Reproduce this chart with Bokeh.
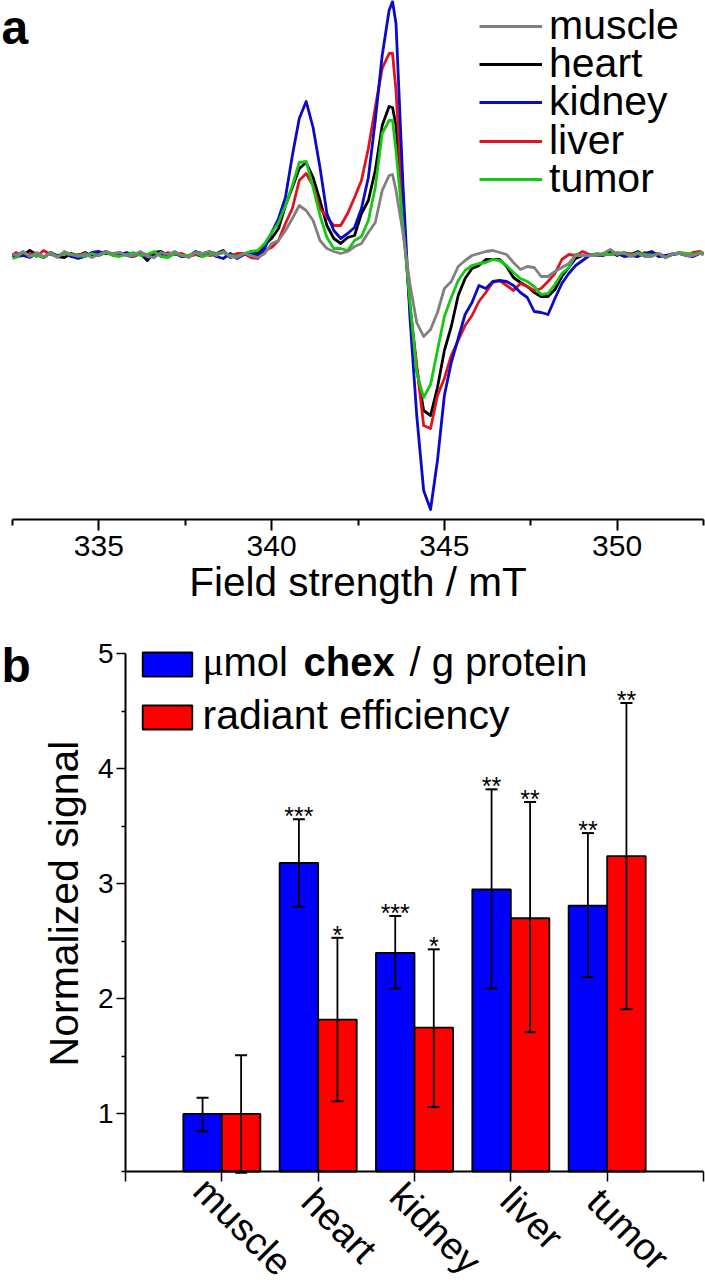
from math import pi
from bokeh.plotting import figure
from bokeh.embed import file_html
from bokeh.resources import INLINE
from bokeh.core.properties import value
from bokeh.models import (ColumnDataSource, FixedTicker, Label, LabelSet, Legend, LegendItem,
                          Range1d, TeeHead, Whisker)

# ---- panel a: EPR spectra (field in mT, signal in arbitrary units) ----
field_left = [332.5,332.6,332.8,333.0,333.2,333.4,333.6,333.8,334.0,334.2,334.4,334.6,334.8,335.0,335.2,335.4,335.6,335.8,336.0,
              336.2,336.4,336.6,336.8,337.0,337.2,337.4,337.6,337.8,338.0,338.2,338.4,338.6,338.8,339.0,339.2,339.4]
field_mid = [339.6,339.8,340.0,340.2,340.4,340.6,340.8,341.0,341.2,341.4,341.6,341.8,342.0,342.2,342.4,342.6,342.8,343.0,
             343.2,343.4,343.5,343.6,343.8,344.0,344.2,344.4,344.6,344.8,345.0,345.2,345.4,345.6,345.8,346.0,346.2,346.4,
             346.6,346.8,347.0,347.2,347.4,347.6,347.8,348.0,348.2,348.4,348.6,348.8,349.0,349.2]
field_right = [349.4,349.6,349.8,350.0,350.2,350.4,350.6,350.8,351.0,351.2,351.4,351.6,351.8,352.0,352.2,352.4,352.5]
field = field_left + field_mid + field_right

muscle_signal = [1,-1,3,-2,2,-2,1,-3,3,0,-2,1,-3,0,3,1,2,-1,-1,3,-2,-3,2,0,3,-1,-3,2,1,3,-1,3,-2,-3,1,-1,
                 -3,1,11,14,24,36,49,44,34,14,6,3,1,3,8,11,22,32,64,79,80,64,22,-29,-68,-82,-75,-58,-34,-27,-12,-6,-1,1,3,4,2,0,-8,-15,-12,-13,-22,-22,-17,-13,-9,-1,-1,-1,
                 -1,1,5,0,2,-2,1,-2,-2,1,-3,1,1,-1,-1,1,0]
heart_signal = [0,1,-1,4,0,-3,2,-2,-3,1,-1,2,-2,1,3,0,2,-1,-2,1,-6,2,3,-1,2,-2,-1,0,-2,2,1,4,-3,-1,0,3,
                1,10,16,26,49,67,86,92,77,54,29,16,11,17,19,41,54,84,129,148,147,129,39,-51,-114,-156,-161,-133,-96,-72,-41,-24,-14,-11,-5,-5,-5,-12,-23,-28,-32,-38,-42,-42,-35,-22,-13,-4,-1,-1,
                -1,0,3,-1,2,0,3,-1,2,0,-3,0,2,-1,0,2,1]
kidney_signal = [-1,-2,-1,-3,1,-3,2,-1,1,-2,-4,-2,2,3,1,1,-1,2,0,2,-3,-1,1,0,1,-2,-2,3,1,3,-2,-4,1,-4,0,1,
                 -1,6,22,36,57,99,136,153,127,87,41,24,16,21,27,46,77,134,199,244,253,231,71,-61,-161,-236,-255,-206,-141,-108,-84,-60,-48,-31,-34,-27,-26,-27,-31,-38,-43,-57,-58,-60,-44,-29,-19,-11,-6,-1,
                 0,-1,1,1,-2,-1,-2,1,3,-2,-1,0,1,-1,-2,1,0]
liver_signal = [-1,2,-1,1,-2,4,0,-2,1,-2,0,-1,1,-1,2,0,-1,1,-2,1,0,2,-1,2,0,1,-2,0,1,-1,0,2,-1,1,1,-3,
                -4,4,7,14,31,46,74,81,69,46,37,29,29,41,57,74,106,147,186,201,201,164,44,-51,-111,-171,-174,-141,-124,-101,-86,-71,-61,-47,-38,-28,-26,-31,-36,-29,-32,-36,-34,-27,-19,-5,0,-1,3,0,
                -1,1,0,1,-1,1,-1,2,0,1,-2,1,1,-1,2,3,1]
tumor_signal = [-4,-3,2,-1,-1,-3,2,-2,1,0,-1,-2,1,-1,2,-1,-2,0,2,-1,0,3,-2,-3,1,-1,-1,2,-2,0,1,2,-1,-2,1,3,
                4,11,22,32,49,69,92,93,67,39,17,6,6,4,14,18,34,67,121,134,134,104,29,-46,-118,-143,-130,-96,-62,-43,-26,-16,-11,-9,-8,-5,-6,-11,-18,-24,-27,-32,-40,-39,-30,-19,-13,0,-1,-1,
                1,0,0,2,1,-1,2,0,-1,1,-3,0,2,1,0,2,1]

field_ticks = [335, 340, 345, 350]
field_minor_ticks = [332.5, 337.5, 342.5, 347.5, 352.5]
series_names = ["muscle", "heart", "kidney", "liver", "tumor"]

# ---- panel b: bars ----
categories = ["muscle", "heart", "kidney", "liver", "tumor"]
category_pos = [1, 2, 3, 4, 5]
chex_values = [1.00, 3.18, 2.40, 2.95, 2.81]
chex_upper = [1.14, 3.56, 2.72, 3.82, 3.44]
chex_lower = [0.85, 2.80, 2.09, 2.09, 2.19]
chex_stars = ["", "***", "***", "**", "**"]
radiant_values = [1.00, 1.82, 1.75, 2.70, 3.24]
radiant_upper = [1.51, 2.53, 2.43, 3.71, 4.57]
radiant_lower = [0.49, 1.11, 1.06, 1.71, 1.91]
radiant_stars = ["", "*", "*", "**", "**"]

FONT = "Liberation Sans"
LC = {"muscle": "#808080", "heart": "#000000", "kidney": "#0a0ac8", "liver": "#e0141e", "tumor": "#14c814"}

# ---------------------------- panel a ----------------------------
# The frame fills the whole figure, so that every text lies inside it; the axis sits at a fixed location.
A_H = 610
a_px = 691 / 20.0          # pixels per mT
a_bottom = -265 - (A_H - 519)
pa = figure(width=705, height=A_H, output_backend="svg", toolbar_location=None,
            x_range=Range1d(332.5 - 12 / a_px, 352.5 + 2 / a_px), y_range=Range1d(a_bottom, 254),
            min_border=0)
pa.outline_line_color = None
pa.grid.visible = False
pa.yaxis.visible = False
ax = pa.xaxis[0]
ax.fixed_location = -265
ax.bounds = (332.5, 352.5)
ax.ticker = FixedTicker(ticks=field_ticks, minor_ticks=field_minor_ticks)
ax.axis_line_width = 2
ax.major_tick_line_width = 2
ax.minor_tick_line_width = 2
ax.major_tick_in = 0
ax.major_tick_out = 11
ax.minor_tick_in = 0
ax.minor_tick_out = 6
ax.major_label_text_font = FONT
ax.major_label_text_font_size = "30px"
ax.major_label_text_color = "#000000"
ax.major_label_standoff = 5
ax.axis_label = "Field strength / mT"
ax.axis_label_text_font = FONT
ax.axis_label_text_font_style = "normal"
ax.axis_label_text_font_size = "40.5px"
ax.axis_label_text_color = "#000000"
ax.axis_label_standoff = 0

signals = {"muscle": muscle_signal, "heart": heart_signal, "kidney": kidney_signal,
           "liver": liver_signal, "tumor": tumor_signal}
rs = {}
for nm in ["heart", "liver", "kidney", "tumor", "muscle"]:
    rs[nm] = pa.line(field, signals[nm], line_color=LC[nm], line_width=2.8, line_join="round")

# one single-row legend per series, because a Legend's rows cannot be closer than its text height
legend_rows = [561, 523, 485, 446, 408]
for n, row in zip(series_names, legend_rows):
    pa.add_layout(Legend(items=[LegendItem(label=n, renderers=[rs[n]])],
                         location=(479, row), orientation="vertical", padding=0, margin=0, spacing=0,
                         glyph_width=63, glyph_height=20, label_standoff=7, label_height=30,
                         label_text_font=FONT, label_text_font_size="41px", label_text_color="#000000",
                         label_text_line_height=0.9,
                         background_fill_alpha=0, border_line_color=None))
pa.add_layout(Label(x=332.5, y=254, x_offset=-11, y_offset=-53, text="a", text_font=FONT,
                    text_font_style="bold", text_font_size="48px", text_color="#000000"))

# ---------------------------- panel b ----------------------------
B_H = 674
bx_px = 578 / 6.0
by_px = 518 / 4.5
pb = figure(width=705, height=B_H, output_backend="svg", toolbar_location=None,
            x_range=Range1d(-125 / bx_px, 6 + 2 / bx_px),
            y_range=Range1d(0.5 - 113 / by_px, 5 + 43 / by_px),
            min_border=0)
pb.outline_line_color = None
pb.grid.visible = False

xa = pb.xaxis[0]
xa.fixed_location = 0.5
xa.bounds = (0, 6)
xa.ticker = FixedTicker(ticks=[0, 1, 2, 3, 4, 5, 6], minor_ticks=[])
xa.major_label_overrides = {i: "" for i in range(7)}
xa.axis_line_width = 2
xa.major_tick_line_width = 1.5
xa.major_tick_in = 0
xa.major_tick_out = 10

ya = pb.yaxis[0]
ya.fixed_location = 0
ya.bounds = (0.5, 5)
ya.ticker = FixedTicker(ticks=[1, 2, 3, 4, 5], minor_ticks=[0.5, 1.5, 2.5, 3.5, 4.5])
ya.axis_line_width = 2
ya.major_tick_line_width = 1.5
ya.minor_tick_line_width = 1.5
ya.major_tick_in = 0
ya.major_tick_out = 9
ya.minor_tick_in = 0
ya.minor_tick_out = 4
ya.major_label_text_font = FONT
ya.major_label_text_font_size = "28px"
ya.major_label_text_color = "#000000"
ya.major_label_standoff = 3

chex_x = [c - 0.2 for c in category_pos]
radiant_x = [c + 0.2 for c in category_pos]
src_c = ColumnDataSource(dict(x=chex_x, top=chex_values, up=chex_upper, lo=chex_lower, s=chex_stars))
src_r = ColumnDataSource(dict(x=radiant_x, top=radiant_values, up=radiant_upper, lo=radiant_lower, s=radiant_stars))
r_c = pb.vbar(x="x", top="top", bottom=0.5, width=0.4, source=src_c, fill_color="#0000ff",
              line_color="#000000", line_width=1.8)
r_r = pb.vbar(x="x", top="top", bottom=0.5, width=0.4, source=src_r, fill_color="#ff0000",
              line_color="#000000", line_width=1.8)
for src in (src_c, src_r):
    w = Whisker(base="x", upper="up", lower="lo", source=src, line_color="#000000", line_width=1.8, level="overlay",
                upper_head=TeeHead(size=12, line_width=2), lower_head=TeeHead(size=12, line_width=2))
    pb.add_layout(w)
    pb.text(x="x", y="up", text="s", source=src, text_align="center", text_baseline="alphabetic",
            y_offset=-3, text_font=value(FONT), text_font_size="25px", text_color="#000000")

pb.add_layout(Legend(items=[LegendItem(label=" ", renderers=[r_c]), LegendItem(label=" ", renderers=[r_r])],
                     location=(136, 552), padding=0, margin=0, spacing=23, glyph_width=62, glyph_height=30,
                     label_height=26, label_text_font_size="1px", label_standoff=0,
                     background_fill_alpha=0, border_line_color=None))

def tx(text, dx, dy, size="40px", style="normal", font=FONT, angle=0.0, align="left", base="alphabetic"):
    pb.add_layout(Label(x=0, y=5, x_offset=dx, y_offset=dy, text=text, text_font=font, text_font_size=size,
                        text_font_style=style, text_color="#000000", angle=angle,
                        text_align=align, text_baseline=base))

tx("μ", 77, -8, font="Liberation Serif")
tx("mol", 98, -8)
tx("chex", 178, -8, style="bold")
tx("/ g protein", 284, -8)
tx("radiant efficiency", 77, -61, size="41px")
tx("Normalized signal", -62, -250, size="41px", angle=pi / 2, align="center", base="middle")
tx("b", -124, -12, size="48px", style="bold")

pb.add_layout(LabelSet(x="x", y="y", text="t", x_offset=21, y_offset="dy", angle=-pi / 4,
                       text_align="center", text_baseline="middle", text_font=value(FONT),
                       text_font_size="38px", text_color="#000000",
                       source=ColumnDataSource(dict(x=category_pos, y=[0.5] * 5, t=categories,
                                                    dy=[-55, -54, -57, -47, -58]))))

open("out.html", "w").write(file_html((pa, pb), INLINE))
